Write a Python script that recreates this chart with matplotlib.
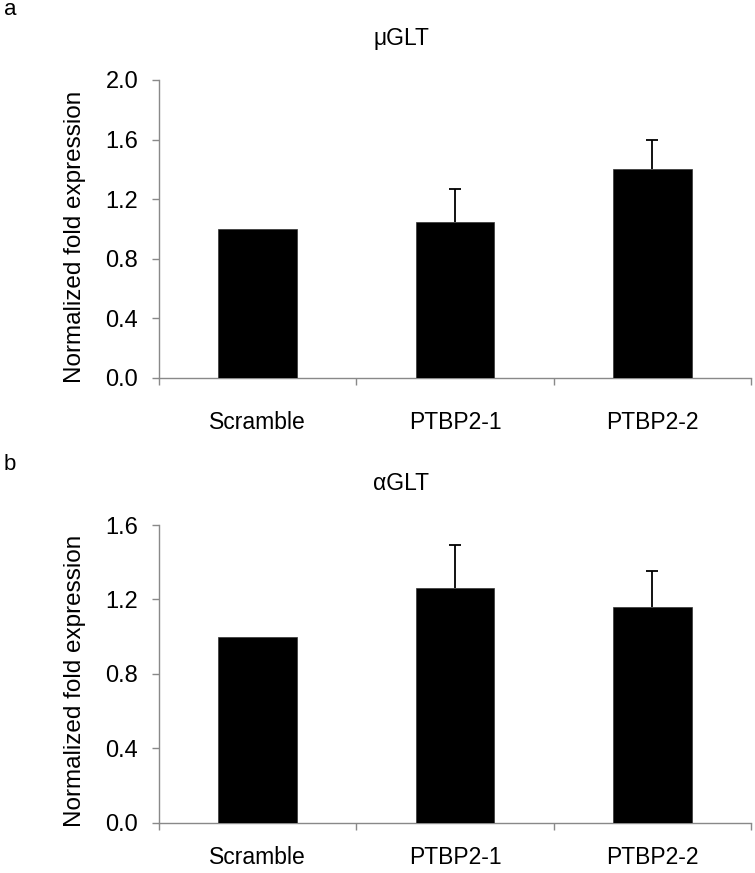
"""Two-panel bar chart: normalized fold expression of muGLT and alphaGLT."""
import matplotlib
matplotlib.use("Agg")
import matplotlib.pyplot as plt
import numpy as np

plt.rcParams["font.family"] = ["Liberation Sans", "DejaVu Sans"]

categories = ["Scramble", "PTBP2-1", "PTBP2-2"]

mu_glt = [1.0, 1.045, 1.40]
mu_glt_err = [0.0, 0.225, 0.195]

alpha_glt = [1.0, 1.26, 1.158]
alpha_glt_err = [0.0, 0.23, 0.195]

W, H = 755, 873
GRAY = "#898989"


def draw_panel(ax, values, errs, ymax, title, label_pad):
    x = np.arange(len(categories))
    vals = np.asarray(values)
    errs = np.asarray(errs)
    ax.bar(x, vals, width=0.4, color="black", edgecolor="#333333", lw=0.5, zorder=3)

    # upper error bars only, skipped where there is no error
    has_err = errs > 0
    _, caps, _ = ax.errorbar(x[has_err], vals[has_err],
                             yerr=[np.zeros(has_err.sum()), errs[has_err]],
                             fmt="none", ecolor="black", elinewidth=1.3,
                             capsize=4, capthick=1.3, zorder=2)
    caps[0].set_visible(False)

    ax.set_xlim(-0.5, len(categories) - 0.5)
    ax.set_ylim(0, ymax)
    yt = np.arange(0, ymax + 0.01, 0.4)
    ax.set_yticks(yt)
    ax.set_yticklabels([f"{v:.1f}" for v in yt])

    # boundary ticks on the x axis, labels centred on the bars
    ax.set_xticks(np.arange(len(categories) + 1) - 0.5)
    ax.set_xticklabels([])
    ax.set_xticks(x, minor=True)
    ax.set_xticklabels(categories, minor=True)
    ax.tick_params(axis="x", which="minor", length=0, pad=label_pad, labelsize=16.5)
    ax.tick_params(axis="x", which="major", length=5, width=1, color=GRAY)
    ax.tick_params(axis="y", length=5, width=1, color=GRAY, pad=10, labelsize=17)

    for side in ("top", "right"):
        ax.spines[side].set_visible(False)
    for side in ("left", "bottom"):
        ax.spines[side].set_color(GRAY)
        ax.spines[side].set_linewidth(1.0)

    ax.set_ylabel("Normalized fold expression", fontsize=17.5, va="center")
    ax.yaxis.set_label_coords(-0.142, 0.475)
    ax.text(0.409, 1.14, title, transform=ax.transAxes, ha="center",
            va="center", fontsize=16.5)


fig = plt.figure(figsize=(W / 100, H / 100), dpi=100)
ax1 = fig.add_axes([159 / W, 1 - 378 / H, 592 / W, 298 / H])
ax2 = fig.add_axes([159 / W, 1 - 822.7 / H, 592 / W, 297.7 / H])

draw_panel(ax1, mu_glt, mu_glt_err, 2.0, "μGLT", 24)
draw_panel(ax2, alpha_glt, alpha_glt_err, 1.6, "αGLT", 17)

fig.text(4 / W, 1 - 15 / H, "a", fontsize=16, va="baseline")
fig.text(4 / W, 1 - 470 / H, "b", fontsize=16, va="baseline")

fig.savefig("out.png", dpi=100)
